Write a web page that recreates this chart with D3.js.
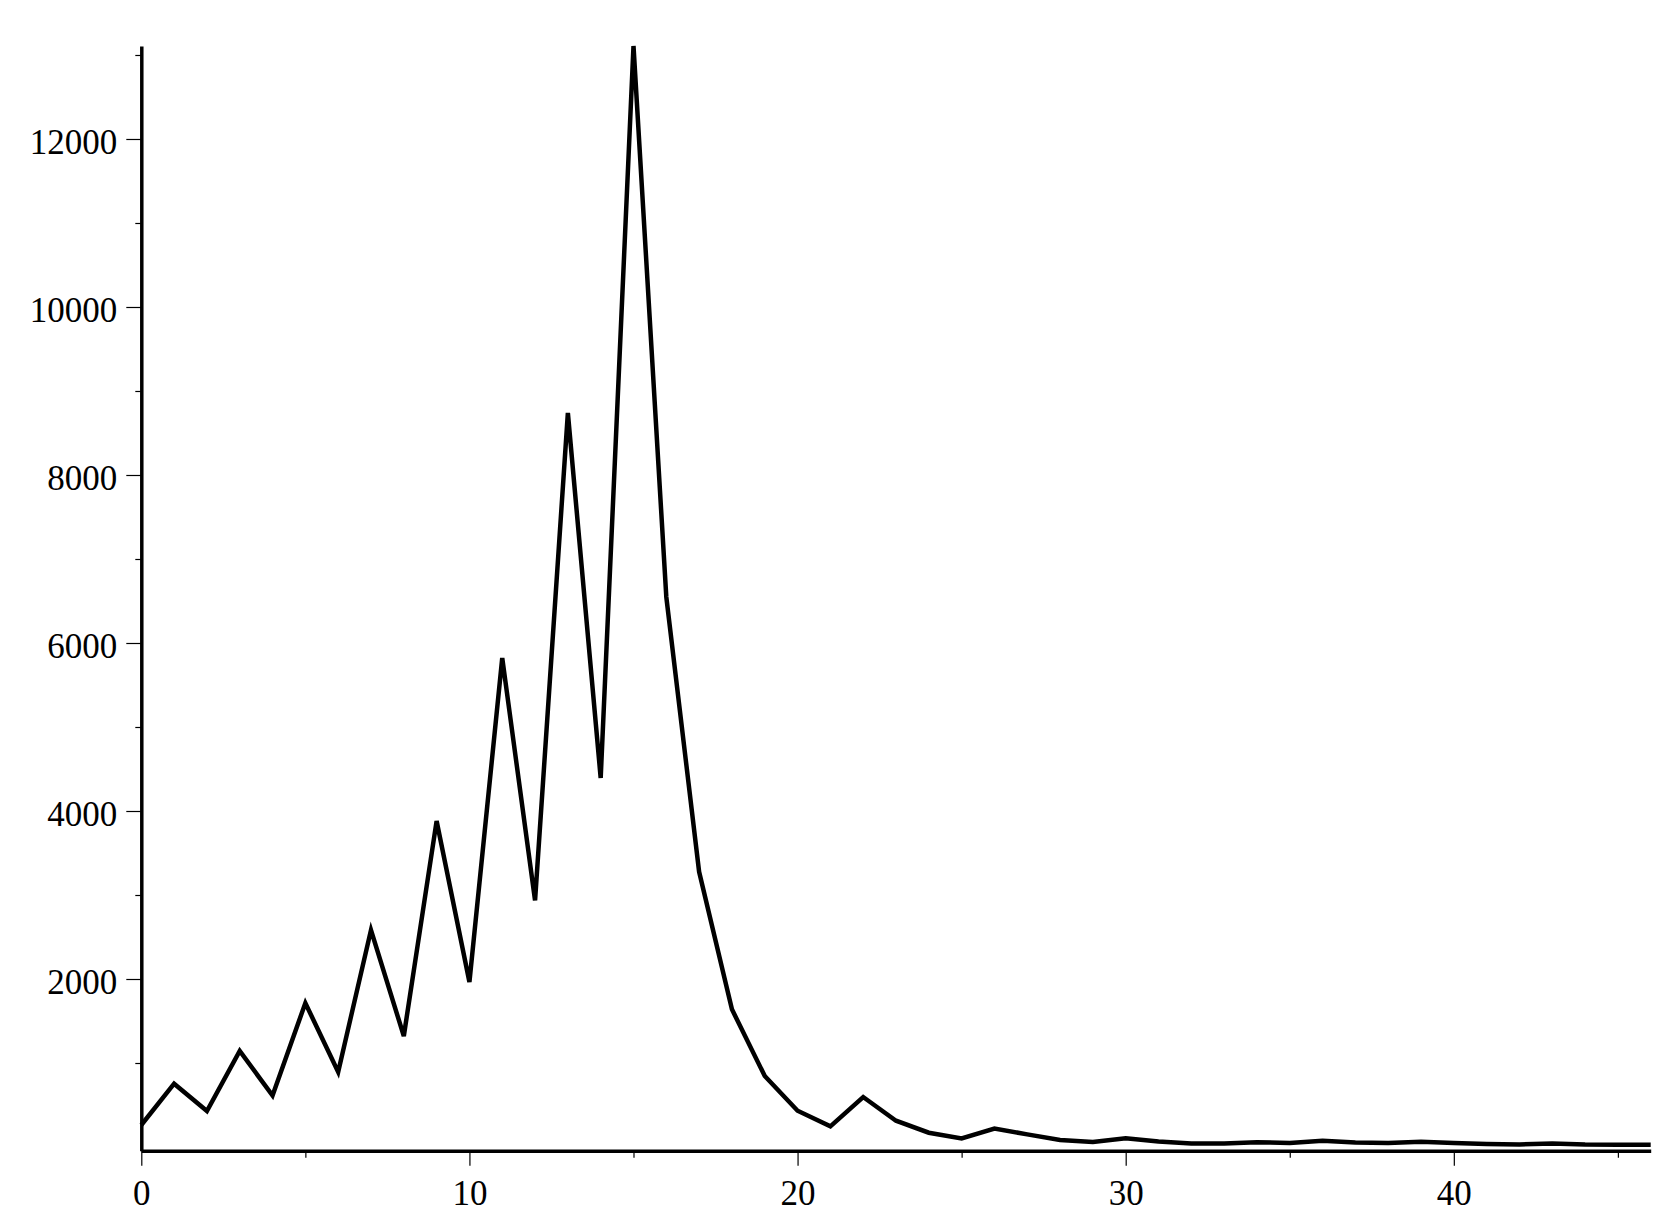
<html>
<head>
<meta charset="utf-8">
<script src="https://cdnjs.cloudflare.com/ajax/libs/d3/7.8.5/d3.min.js"></script>
<style>
body { margin:0; background:white; }
.axis text { font-family: "Liberation Serif", "Times New Roman", serif; font-size:35px; fill:black; }
</style>
</head>
<body>
<div id="chart"></div>
<script>

// values, one per integer step 0..46
xs = d3.range(0, 47)
ys = [262, 754, 429, 1143, 613, 1714, 893, 2583, 1321, 3881,
      1964, 5821, 2935, 8738, 4393, 13107, 6548, 3277, 1639, 845,
      432, 246, 595, 313, 170, 101, 220, 150, 83, 60,
      104, 65, 42, 42, 56, 48, 75, 54, 48, 63,
      48, 36, 30, 42, 30, 27, 27]

xMajor = [0, 10, 20, 30, 40]
xMinor = [5, 15, 25, 35, 45]
yMajor = [2000, 4000, 6000, 8000, 10000, 12000]
yMinor = [1000, 3000, 5000, 7000, 9000, 11000, 13000]

W = 1664, H = 1227

svg = d3.select("#chart").append("svg").attr("width", W).attr("height", H)

x = d3.scaleLinear().domain([0, 46]).range([141.3, 1650.7])
y = d3.scaleLinear().domain([-44, 13107]).range([1150.7, 46])

// minor ticks first (no labels)
svg.append("g").attr("transform", "translate(0," + y.range()[0] + ")")
	.call(d3.axisBottom(x).tickValues(xMinor).tickSize(7).tickFormat("").tickSizeOuter(0))
	.call(g => g.select(".domain").remove())
	.selectAll("line").attr("stroke-width", 1.2)

svg.append("g").attr("transform", "translate(" + x.range()[0] + ",0)")
	.call(d3.axisLeft(y).tickValues(yMinor).tickSize(6).tickFormat("").tickSizeOuter(0))
	.call(g => g.select(".domain").remove())
	.selectAll("line").attr("stroke-width", 1.2)

// major ticks + axis lines
xa = svg.append("g").attr("class", "axis").attr("transform", "translate(0," + y.range()[0] + ")")
	.call(d3.axisBottom(x).tickValues(xMajor).tickSize(15).tickPadding(8).tickSizeOuter(0))
xa.select(".domain").attr("stroke-width", 3.5)
xa.selectAll("line").attr("stroke-width", 1.2)
xa.selectAll("text").attr("dy", "0.9em")

ya = svg.append("g").attr("class", "axis").attr("transform", "translate(" + x.range()[0] + ",0)")
	.call(d3.axisLeft(y).tickValues(yMajor).tickSize(15).tickPadding(9).tickFormat(d3.format("d")).tickSizeOuter(0))
ya.select(".domain").attr("stroke-width", 3.5)
ya.selectAll("line").attr("stroke-width", 1.2)
ya.selectAll("text").attr("dy", "0.42em")

// the curve
line = d3.line().x(function(d, i){ return x(xs[i]) }).y(function(d){ return y(d) })

svg.append("path").datum(ys)
	.attr("d", line)
	.attr("fill", "none")
	.attr("stroke", "black")
	.attr("stroke-width", 4.5)
	.attr("stroke-linejoin", "miter")

</script>
</body>
</html>
